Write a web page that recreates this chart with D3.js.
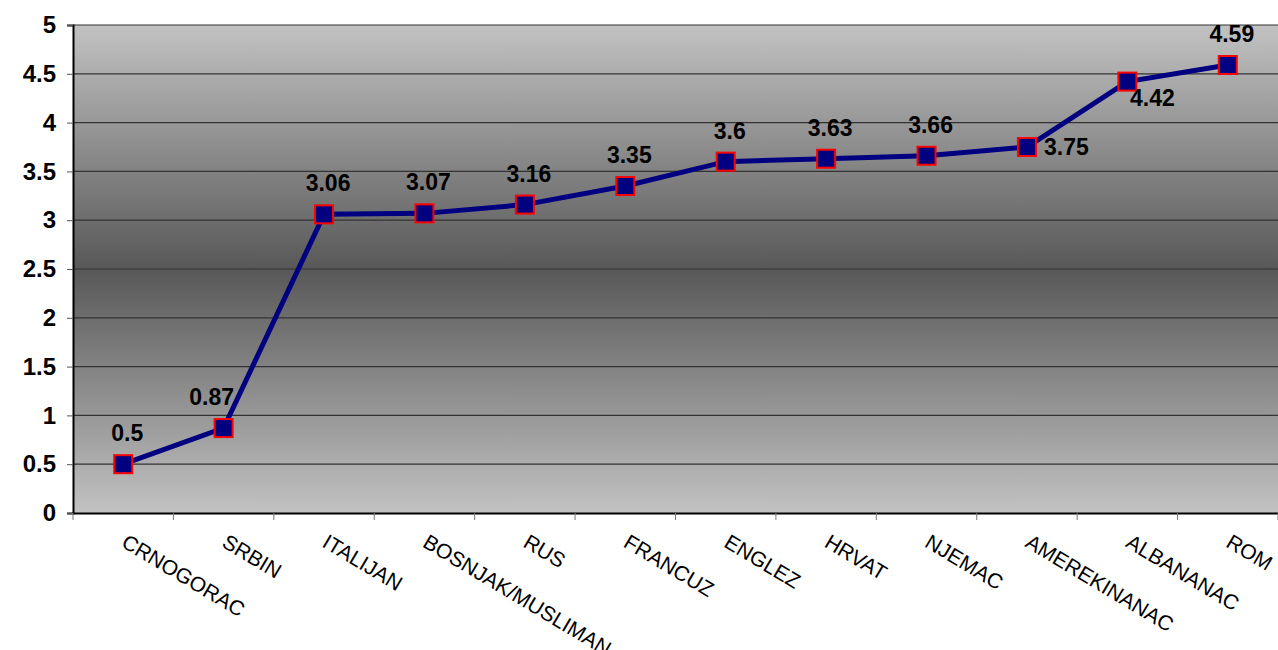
<!DOCTYPE html>
<html>
<head>
<meta charset="utf-8">
<script src="https://cdn.jsdelivr.net/npm/d3@7"></script>
<style>
body { margin: 0; background: #fff; }
svg { display: block; font-family: Arial, "Liberation Sans", sans-serif; }
</style>
</head>
<body>
<svg id="chart" width="1278" height="650"></svg>
<script>
// values
var categories = ["CRNOGORAC", "SRBIN", "ITALIJAN", "BOSNJAK/MUSLIMAN", "RUS", "FRANCUZ",
    "ENGLEZ", "HRVAT", "NJEMAC", "AMEREKINANAC", "ALBANANAC", "ROM"];
var values = [0.5, 0.87, 3.06, 3.07, 3.16, 3.35, 3.6, 3.63, 3.66, 3.75, 4.42, 4.59];
var yTicks = [0, 0.5, 1, 1.5, 2, 2.5, 3, 3.5, 4, 4.5, 5];

var margin = {top: 25, right: 0, bottom: 137, left: 73};
var width = 1278 - margin.left - margin.right;
var height = 650 - margin.top - margin.bottom;

var svg = d3.select("#chart");

// background gradient, light - dark - light
var grad = svg.append("defs").append("linearGradient")
    .attr("id", "bg").attr("x1", 0).attr("y1", 0).attr("x2", 0).attr("y2", 1);
grad.append("stop").attr("offset", "0%").attr("stop-color", "#c2c2c2");
grad.append("stop").attr("offset", "50%").attr("stop-color", "#585858");
grad.append("stop").attr("offset", "100%").attr("stop-color", "#c2c2c2");

var g = svg.append("g").attr("transform", "translate(" + margin.left + "," + margin.top + ")");

var x = d3.scaleBand().domain(categories).range([0, width]);
var y = d3.scaleLinear().domain([0, 5]).range([height, 0]);

g.append("rect")
    .attr("width", width).attr("height", height)
    .attr("fill", "url(#bg)");

// gridlines
g.selectAll(".grid")
    .data(yTicks.slice(1))
    .enter().append("line")
    .attr("class", "grid")
    .attr("x1", 0).attr("x2", width)
    .attr("y1", function(d) { return y(d); })
    .attr("y2", function(d) { return y(d); })
    .attr("stroke", "#333").attr("stroke-width", 1.2);

// y axis
var yAxis = g.append("g")
    .call(d3.axisLeft(y).tickValues(yTicks).tickSize(6).tickFormat(d3.format("")));
yAxis.select(".domain").attr("stroke", "#000").attr("stroke-width", 2);
yAxis.selectAll(".tick line").attr("stroke", "#555");
yAxis.selectAll("text")
    .attr("x", -17)
    .style("font-size", "24px").style("font-weight", "bold")
    .style("font-family", "Arial, 'Liberation Sans', sans-serif")
    .attr("fill", "#000");

// x axis, ticks between categories
var xAxis = g.append("g")
    .attr("transform", "translate(0," + height + ")")
    .call(d3.axisBottom(x).tickSize(0).tickFormat(""));
xAxis.select(".domain").attr("stroke", "#000").attr("stroke-width", 2);

g.selectAll(".xtick")
    .data(categories.concat(["end"]))
    .enter().append("line")
    .attr("class", "xtick")
    .attr("x1", function(d, i) { return i * x.step(); })
    .attr("x2", function(d, i) { return i * x.step(); })
    .attr("y1", height).attr("y2", height + 7)
    .attr("stroke", "#777");

g.selectAll(".xlabel")
    .data(categories)
    .enter().append("text")
    .attr("class", "xlabel")
    .attr("transform", function(d) {
        return "translate(" + (x(d) + x.bandwidth() / 2 - 3) + "," + (height + 33) + ") rotate(31)";
    })
    .style("font-size", "21px")
    .attr("fill", "#000")
    .text(function(d) { return d; });

// line
var line = d3.line()
    .x(function(d, i) { return x(categories[i]) + x.bandwidth() / 2; })
    .y(function(d) { return y(d); });

g.append("path")
    .datum(values)
    .attr("d", line)
    .attr("fill", "none")
    .attr("stroke", "#000080")
    .attr("stroke-width", 5);

// markers
g.selectAll(".marker")
    .data(values)
    .enter().append("rect")
    .attr("class", "marker")
    .attr("x", function(d, i) { return x(categories[i]) + x.bandwidth() / 2 - 9; })
    .attr("y", function(d) { return y(d) - 9; })
    .attr("width", 18).attr("height", 18)
    .attr("fill", "#000080")
    .attr("stroke", "#ff0000").attr("stroke-width", 2);

// data labels: above, except AMEREKINANAC (right) and ALBANANAC (below right)
g.selectAll(".vlabel")
    .data(values)
    .enter().append("text")
    .attr("class", "vlabel")
    .attr("x", function(d, i) {
        var cx = x(categories[i]) + x.bandwidth() / 2;
        if (i == 9) return cx + 17;
        if (i == 10) return cx + 25;
        if (i == 1) return cx - 12;
        return cx + 4;
    })
    .attr("y", function(d, i) {
        if (i == 9) return y(d) + 8;
        if (i == 10) return y(d) + 24;
        return y(d) - 23;
    })
    .attr("text-anchor", function(d, i) { return i == 9 ? "start" : "middle"; })
    .style("font-size", "23px").style("font-weight", "bold")
    .attr("fill", "#000")
    .text(function(d) { return d; });
</script>
</body>
</html>
